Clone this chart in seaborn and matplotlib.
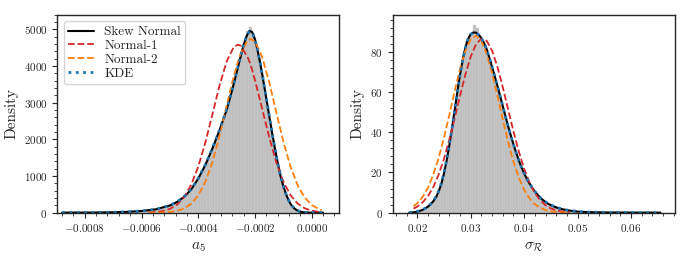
import numpy as np
import pandas as pd
import seaborn as sns
import matplotlib
matplotlib.use("Agg")
import matplotlib.pyplot as plt
from matplotlib.ticker import AutoMinorLocator

# ---- panel 1: a_5 (x values in units of 1e-4) ----
skew_x_a5 = [-8.8, -8.5, -8.0, -7.5, -7.0, -6.5, -6.0, -5.5, -5.0, -4.75, -4.5, -4.25, -4.0, -3.75, -3.5, -3.25,
             -3.0, -2.9, -2.8, -2.7, -2.6, -2.5, -2.4, -2.3, -2.2, -2.1, -2.0, -1.9, -1.8, -1.7, -1.6, -1.5,
             -1.4, -1.3, -1.2, -1.1, -1.0, -0.9, -0.8, -0.7, -0.6, -0.5, -0.4, -0.3, -0.2, -0.1, 0.1, 0.4]
skew_y_a5 = [0.5, 1, 2, 5, 10, 22, 45, 90, 195, 290, 430, 630, 930, 1300, 1750, 2250,
             2800, 3080, 3360, 3660, 3970, 4280, 4580, 4810, 4960, 4930, 4730, 4400, 4010, 3570, 3110, 2650,
             2190, 1760, 1360, 1000, 720, 490, 310, 185, 105, 55, 25, 10, 4, 1.5, 0, 0]
kde_y_a5 = [1, 1.5, 3, 6, 11, 23, 46, 92, 198, 295, 435, 635, 935, 1310, 1760, 2260,
            2810, 3090, 3370, 3670, 3980, 4290, 4590, 4810, 4940, 4920, 4730, 4410, 4020, 3580, 3110, 2650,
            2190, 1760, 1360, 1010, 730, 500, 320, 190, 110, 60, 28, 12, 5, 2, 1, 0]

norm_x_a5 = [-5.75, -5.5, -5.25, -5.0, -4.75, -4.5, -4.25, -4.0, -3.75, -3.5, -3.25, -3.0, -2.75, -2.6,
             -2.5, -2.25, -2.15, -2.0, -1.75, -1.5, -1.25, -1.0, -0.75, -0.5, -0.25, 0.0, 0.25, 0.35]
norm1_y_a5 = [7, 18, 44, 102, 216, 422, 759, 1256, 1914, 2686, 3470, 4125, 4517, 4585,
              4555, 4228, 4030, 3614, 2845, 2062, 1376, 846, 479, 249, 119, 53, 21, 15]
norm2_y_a5 = [0.7, 2.4, 7, 20, 49, 113, 240, 469, 840, 1383, 2092, 2910, 3717, 4120,
              4363, 4708, 4740, 4669, 4255, 3562, 2740, 1939, 1260, 752, 413, 208, 96, 69]

# histogram, bin width 0.1e-4 from -6.5e-4 to 0
hist_a5 = [24, 27, 31, 36, 42, 48, 55, 64, 73, 85, 98, 113, 132, 153, 178, 208, 245, 290, 340, 400,
           465, 540, 630, 740, 865, 1000, 1150, 1300, 1480, 1660, 1850, 2050, 2250, 2470, 2690, 2940, 3220,
           3510, 3815, 4125, 4430, 4700, 4950, 5060, 4880, 4570, 4210, 3790, 3350, 2880, 2420, 1970, 1550,
           1180, 870, 600, 400, 245, 145, 80, 40, 17, 7, 3, 1]

# ---- panel 2: sigma_R ----
skew_x_sr = [0.0185, 0.019, 0.0195, 0.020, 0.0205, 0.021, 0.0215, 0.022, 0.0225, 0.023, 0.0235, 0.024,
             0.0245, 0.025, 0.0255, 0.026, 0.0265, 0.027, 0.0275, 0.028, 0.0285, 0.029, 0.0295, 0.030,
             0.0305, 0.031, 0.0315, 0.032, 0.0325, 0.033, 0.0335, 0.034, 0.0345, 0.035, 0.0355, 0.036,
             0.0365, 0.037, 0.0375, 0.038, 0.0385, 0.039, 0.0395, 0.040, 0.0405, 0.041, 0.0415, 0.042,
             0.0425, 0.043, 0.0435, 0.044, 0.0445, 0.045, 0.046, 0.047, 0.048, 0.050, 0.052, 0.055,
             0.060, 0.0655]
skew_y_sr = [0, 0.1, 0.25, 0.5, 0.9, 1.4, 2.1, 3.0, 4.2, 5.7, 7.6, 10.5,
             14.2, 19.5, 26, 33.5, 42, 51, 60, 68.5, 76, 82, 86.3, 88.8,
             89.6, 89.5, 88.5, 86.8, 84.3, 81.2, 76.9, 72.4, 67.8, 63, 58, 53,
             48, 43, 38.4, 34, 29.8, 26, 22.6, 19.5, 16.8, 14.5, 12.4, 10.5,
             8.9, 7.5, 6.3, 5.3, 4.4, 3.7, 2.6, 1.8, 1.2, 0.5, 0.25, 0.1,
             0.03, 0]
kde_y_sr = [0.1, 0.2, 0.35, 0.6, 1.0, 1.5, 2.2, 3.1, 4.3, 5.9, 7.9, 10.8,
            14.6, 19.9, 26.3, 33.7, 42, 51, 60, 68.4, 75.9, 81.9, 86.2, 88.7,
            89.5, 89.4, 88.4, 86.7, 84.2, 81.1, 76.9, 72.4, 67.8, 63, 58, 53,
            48, 43, 38.4, 34, 29.8, 26, 22.6, 19.6, 16.9, 14.6, 12.5, 10.6,
            9.0, 7.6, 6.4, 5.4, 4.5, 3.8, 2.7, 1.9, 1.3, 0.6, 0.3, 0.15,
            0.05, 0]

norm_x_sr = [0.0193, 0.020, 0.021, 0.022, 0.023, 0.024, 0.025, 0.026, 0.027, 0.028, 0.029, 0.030,
             0.031, 0.032, 0.033, 0.034, 0.035, 0.036, 0.037, 0.038, 0.039, 0.040, 0.041, 0.042,
             0.043, 0.044, 0.045, 0.046, 0.047, 0.048, 0.0485]
norm1_y_sr = [2.0, 3.0, 5.1, 8.2, 12.7, 18.9, 26.8, 36.3, 47.0, 58.1, 68.7, 77.6,
              83.8, 86.5, 85.4, 80.5, 72.5, 62.4, 51.4, 40.4, 30.4, 21.8, 15.0, 9.8,
              6.2, 3.7, 2.1, 1.2, 0.6, 0.3, 0.2]
norm2_y_sr = [3.2, 4.7, 7.8, 12.4, 18.9, 27.2, 37.3, 48.6, 60.5, 71.5, 80.5, 86.3,
              88.0, 85.4, 78.9, 69.4, 58.1, 46.3, 35.1, 25.3, 17.4, 11.4, 7.1, 4.2,
              2.4, 1.3, 0.65, 0.3, 0.15, 0.07, 0.05]

# histogram, bin width 0.0005 from 0.019 to 0.050
hist_sr = [0.2, 0.35, 0.7, 1.1, 1.7, 2.5, 3.6, 4.9, 6.6, 9.0, 12.3, 16.8, 22.7, 29.7, 37.7, 46.5,
           55.5, 64.3, 72.3, 80.5, 85.5, 87.6, 89.2, 93.5, 92.0, 87.7, 85.6, 82.8, 79.0, 74.7, 70.1,
           65.4, 60.5, 55.5, 50.5, 45.5, 40.7, 36.2, 31.9, 27.9, 24.3, 21.0, 18.1, 15.6, 13.4, 11.4,
           9.7, 8.2, 6.9, 5.8, 4.8, 4.0, 3.4, 2.9, 2.5, 2.1, 1.7, 1.4, 1.2, 1.0, 0.8, 0.6]

sns.set_style("ticks")
plt.rcParams['font.family'] = 'serif'
plt.rcParams['font.serif'] = ['cmr10']
plt.rcParams['mathtext.fontset'] = 'cm'
plt.rcParams['axes.formatter.use_mathtext'] = True
plt.rcParams['axes.edgecolor'] = '.15'
plt.rcParams['axes.linewidth'] = 1.0

fig, (ax1, ax2) = plt.subplots(1, 2, figsize=(6.9, 2.59), dpi=100)
fig.subplots_adjust(left=0.083, right=0.978, bottom=0.179, top=0.943, wspace=0.189)

e4 = 1e-4
edges_a5 = np.linspace(-6.5e-4, 0, len(hist_a5) + 1)
edges_sr = np.linspace(0.019, 0.050, len(hist_sr) + 1)
df_a5 = pd.DataFrame({'x': (edges_a5[:-1] + edges_a5[1:]) / 2, 'h': hist_a5})
df_sr = pd.DataFrame({'x': (edges_sr[:-1] + edges_sr[1:]) / 2, 'h': hist_sr})

panels = [
    (ax1, df_a5, edges_a5, np.array(skew_x_a5) * e4, skew_y_a5, kde_y_a5,
     np.array(norm_x_a5) * e4, norm1_y_a5, norm2_y_a5),
    (ax2, df_sr, edges_sr, np.array(skew_x_sr), skew_y_sr, kde_y_sr,
     np.array(norm_x_sr), norm1_y_sr, norm2_y_sr),
]

for ax, df_h, edges, sx, sy, ky, nx, n1, n2 in panels:
    sns.histplot(data=df_h, x='x', weights='h', bins=edges.tolist(), ax=ax, color='gray', alpha=0.5,
                 edgecolor='0.85', linewidth=0.2)
    sns.lineplot(x=sx, y=sy, ax=ax, color='black', lw=1.5, label='Skew Normal')
    sns.lineplot(x=nx, y=n1, ax=ax, color='tab:red', lw=1.3, linestyle='--', label='Normal-1')
    sns.lineplot(x=nx, y=n2, ax=ax, color='tab:orange', lw=1.3, linestyle='--', label='Normal-2')
    sns.lineplot(x=sx, y=ky, ax=ax, color='tab:blue', lw=2, linestyle=':', label='KDE')
    ax.set_ylabel('Density', fontsize=11)
    ax.tick_params(labelsize=8, length=3.5, width=0.8)
    ax.tick_params(which='minor', length=2, width=0.6)
    ax.xaxis.set_minor_locator(AutoMinorLocator(5))
    ax.yaxis.set_minor_locator(AutoMinorLocator(5))
    for s in ax.spines.values():
        s.set_visible(True)

ax1.set_xlim(-0.000897, 0.0000975)
ax1.set_ylim(0, 5400)
ax1.set_xticks([-0.0008, -0.0006, -0.0004, -0.0002, 0.0])
ax1.set_xlabel('$a_5$', fontsize=11)
ax1.legend(loc='upper left', fontsize=9.5, labelspacing=0.12, handlelength=1.9, borderpad=0.35)

ax2.set_xlim(0.0154, 0.0682)
ax2.set_ylim(0, 98.4)
ax2.set_xticks([0.02, 0.03, 0.04, 0.05, 0.06])
ax2.set_yticks([0, 20, 40, 60, 80])
ax2.set_xlabel(r'$\sigma_\mathcal{R}$', fontsize=11)
if ax2.get_legend() is not None:
    ax2.get_legend().remove()

plt.savefig('out.png', dpi=100)
